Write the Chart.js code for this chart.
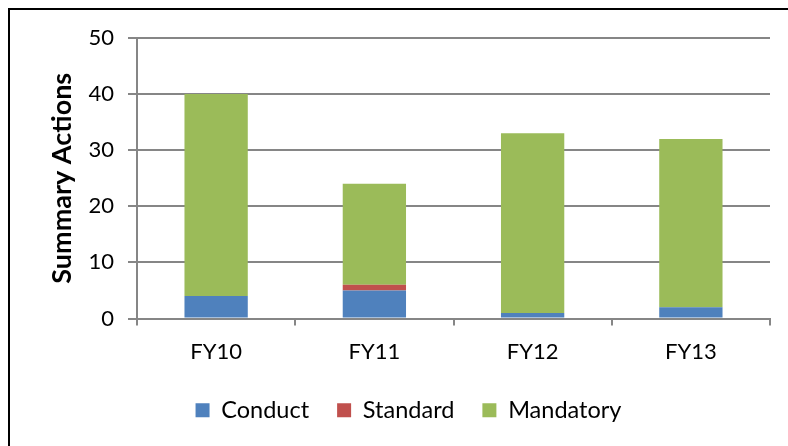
<!DOCTYPE html>
<html>
<head>
<meta charset="utf-8">
<script src="https://cdn.jsdelivr.net/npm/chart.js@4/dist/chart.umd.min.js"></script>
<style>
  html, body { margin: 0; padding: 0; background: #fff; }
  #wrap { position: relative; width: 788px; height: 446px; }
  #frame { position: absolute; left: 8px; top: 8px; right: 0; bottom: 0;
           border-top: 2px solid #000; border-left: 2px solid #000; pointer-events: none; }
</style>
</head>
<body>
<div id="wrap">
  <canvas id="chart" width="788" height="446"></canvas>
  <div id="frame"></div>
</div>
<script>
// data
var years = ['FY10', 'FY11', 'FY12', 'FY13'];
var conduct = [4, 5, 1, 2];
var standard = [0, 1, 0, 0];
var mandatory = [36, 18, 32, 30];
var yTicks = [0, 10, 20, 30, 40, 50];

var fontName = 'Lato, "Liberation Sans", sans-serif';
var gridGray = '#868686';

const ctx = document.getElementById('chart').getContext('2d');
new Chart(ctx, {
    type: 'bar',
    data: {
        labels: years,
        datasets: [
            { label: 'Conduct', data: conduct, backgroundColor: '#4F81BD' },
            { label: 'Standard', data: standard, backgroundColor: '#C0504D' },
            { label: 'Mandatory', data: mandatory, backgroundColor: '#9BBB59' }
        ]
    },
    options: {
        responsive: false,
        animation: false,
        layout: {
            padding: { left: 47, right: 18, top: 38, bottom: 14 }
        },
        datasets: {
            bar: { categoryPercentage: 1, barPercentage: 0.4 }
        },
        scales: {
            x: {
                stacked: true,
                grid: { display: true, drawOnChartArea: false, drawTicks: true, tickLength: 7, color: gridGray, lineWidth: 2 },
                border: { display: true, color: gridGray, width: 2 },
                ticks: { color: '#000', font: { family: fontName, size: 22 }, padding: 13 },
                afterFit: function (scale) { scale.height = 52; }
            },
            y: {
                stacked: true,
                min: 0,
                max: 50,
                afterBuildTicks: function (scale) {
                    scale.ticks = yTicks.map(function (v) { return { value: v }; });
                },
                grid: { color: gridGray, lineWidth: 2, tickLength: 9 },
                border: { display: true, color: gridGray, width: 2 },
                ticks: { color: '#000', font: { family: fontName, size: 22 }, padding: 14 },
                title: {
                    display: true,
                    text: 'Summary Actions',
                    color: '#000',
                    font: { family: fontName, size: 27, weight: 'bold' },
                    padding: { top: -1, bottom: 0 }
                },
                afterFit: function (scale) { scale.width = 90; }
            }
        },
        plugins: {
            legend: {
                position: 'bottom',
                labels: {
                    color: '#000',
                    boxWidth: 14,
                    boxHeight: 14,
                    padding: 28,
                    font: { family: fontName, size: 23.5 }
                }
            },
            tooltip: { enabled: false }
        }
    }
});
</script>
</body>
</html>
